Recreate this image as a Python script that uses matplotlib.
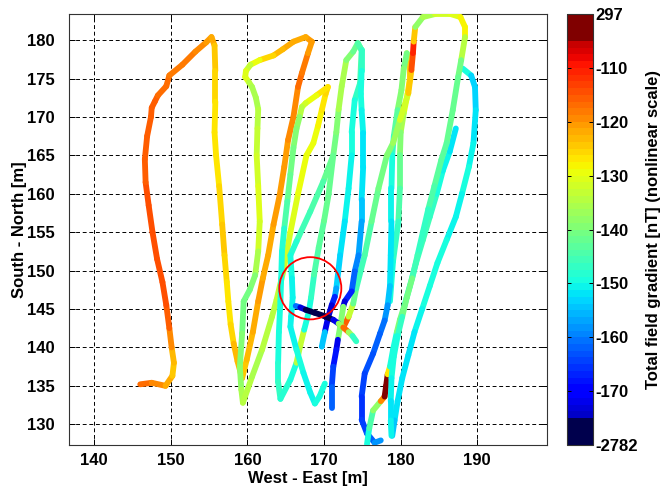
import numpy as np
import matplotlib
matplotlib.use("Agg")
import matplotlib.pyplot as plt
from matplotlib.colors import ListedColormap, FuncNorm
from matplotlib.collections import LineCollection
from matplotlib.patches import Circle

plt.rcParams["font.family"] = ["Liberation Sans", "DejaVu Sans"]
plt.rcParams["font.weight"] = "bold"

# Colour scale: nonlinear gradient axis (nT), evenly spaced ticks
scale_ticks = [-2782, -170, -160, -150, -140, -130, -120, -110, 297]

# Survey legs: (east [m], north [m], total field gradient [nT])
leg_a = [(146.0, 135.2, -117), (147.5, 135.4, -118), (149.3, 135.0, -121), (150.2, 136.3, -124),
         (150.4, 138.0, -125), (150.1, 140.0, -121), (149.8, 142.5, -117), (149.4, 145.5, -115),
         (148.9, 148.5, -114), (148.2, 151.5, -114), (147.6, 155.0, -115), (147.1, 158.5, -115),
         (146.7, 161.5, -115), (146.6, 164.5, -116), (146.9, 167.5, -116), (147.4, 170.0, -116),
         (147.5, 171.2, -115), (147.9, 172.0, -116), (148.3, 172.8, -116), (149.4, 174.0, -117),
         (149.8, 175.4, -118), (151.5, 176.8, -118), (153.2, 178.5, -119), (154.6, 179.7, -120),
         (155.3, 180.4, -121)]
leg_1 = [(155.3, 180.4, -121), (155.7, 179.3, -124), (155.8, 176.0, -125), (155.8, 172.0, -126),
         (155.7, 168.0, -127), (155.9, 165.0, -127), (156.3, 161.0, -127), (156.7, 156.0, -125),
         (157.0, 152.0, -124), (157.3, 148.5, -127), (157.5, 146.0, -128), (157.8, 143.0, -127),
         (158.2, 140.5, -124), (158.7, 138.2, -122), (159.3, 136.0, -125)]
leg_2 = [(159.3, 136.0, -125), (159.9, 138.4, -124), (160.7, 142.0, -122), (161.4, 146.0, -121),
         (162.0, 149.0, -121), (162.7, 152.0, -122), (163.4, 156.0, -121), (164.2, 159.8, -121),
         (164.8, 163.5, -121), (165.3, 167.0, -120), (166.0, 170.0, -120), (166.6, 173.9, -119),
         (167.1, 175.7, -116), (167.9, 178.3, -120), (168.4, 179.8, -121), (167.6, 180.4, -121)]
leg_3 = [(167.6, 180.4, -121), (166.0, 179.8, -122), (164.6, 178.8, -123), (163.4, 178.0, -124),
         (161.6, 177.4, -127), (160.4, 176.8, -132), (159.8, 176.0, -134), (159.7, 175.2, -127),
         (160.2, 174.5, -134), (160.6, 173.9, -136), (161.1, 172.5, -136), (161.4, 171.0, -135),
         (161.3, 168.5, -134), (161.2, 165.0, -132), (161.4, 161.0, -131), (161.6, 156.4, -130),
         (161.4, 152.5, -133), (161.0, 149.4, -138), (160.3, 147.5, -140), (159.5, 146.0, -141),
         (159.3, 141.8, -140), (159.0, 137.5, -139), (159.2, 134.5, -137), (159.4, 132.8, -134)]
leg_4 = [(159.4, 132.8, -134), (160.6, 136.2, -136), (161.9, 139.7, -135), (163.2, 144.0, -134),
         (163.8, 146.2, -134), (164.7, 150.0, -133), (165.6, 155.0, -131), (166.6, 160.0, -130),
         (167.7, 165.0, -130), (168.6, 166.6, -130), (169.2, 168.8, -129), (169.7, 170.9, -128),
         (170.2, 173.0, -126), (170.5, 173.9, -125)]
leg_5 = [(170.5, 173.9, -125), (169.0, 172.8, -128), (167.6, 171.8, -130), (167.1, 171.3, -133),
         (166.8, 170.0, -137), (166.4, 168.5, -139), (166.0, 166.0, -140), (165.6, 162.5, -141),
         (165.2, 159.0, -143), (164.8, 155.5, -147), (164.5, 152.5, -149), (164.4, 149.0, -150),
         (164.3, 146.0, -150), (164.1, 142.0, -150), (164.0, 138.0, -149), (164.0, 135.5, -148),
         (164.3, 133.3, -147)]
leg_6 = [(164.3, 133.3, -147), (165.6, 135.8, -150), (166.4, 138.0, -148), (166.9, 140.3, -120),
         (167.4, 142.3, -147), (168.0, 144.6, -152), (168.3, 146.5, -148), (168.7, 149.5, -145),
         (169.3, 153.0, -144), (170.0, 156.5, -143), (170.6, 160.0, -142), (171.2, 165.0, -141),
         (171.6, 168.0, -140), (171.9, 171.0, -138), (172.3, 174.0, -133), (172.9, 177.4, -138),
         (173.8, 178.5, -141), (174.4, 179.6, -142)]
leg_d = [(171.2, 165.0, -141), (169.9, 161.6, -143), (168.2, 157.7, -145), (166.4, 153.8, -147),
         (165.6, 152.0, -149), (165.8, 149.0, -150), (165.9, 146.5, -151), (165.7, 144.0, -151),
         (165.6, 142.7, -151), (166.4, 139.7, -150), (167.3, 136.7, -150), (168.2, 134.1, -151),
         (168.8, 132.7, -150), (169.4, 133.6, -150), (170.1, 135.3, -149)]
leg_c3 = [(174.4, 179.6, -142), (174.9, 178.7, -144), (174.7, 174.4, -146), (174.0, 172.2, -148),
          (173.6, 168.0, -150), (173.6, 165.0, -150), (173.2, 160.7, -151), (172.7, 156.4, -151),
          (172.1, 152.0, -152), (171.6, 147.7, -155), (171.4, 146.6, -160), (171.0, 145.5, -1000),
          (170.5, 143.8, -800), (170.1, 142.0, -600), (169.7, 140.1, -138)]
leg_c2 = [(174.4, 179.6, -142), (174.9, 178.7, -146), (174.9, 176.0, -148), (174.8, 173.0, -150),
          (174.9, 170.9, -150), (175.1, 167.9, -151), (175.1, 163.5, -152), (174.9, 159.2, -153),
          (174.9, 156.4, -155), (174.5, 152.0, -158), (174.0, 149.9, -160), (173.6, 147.3, -163),
          (172.7, 146.0, -400), (172.5, 145.3, -1500), (172.1, 142.7, 150), (171.8, 141.0, -1200),
          (171.6, 139.7, -300), (171.2, 137.5, -165), (171.0, 134.9, -163), (171.0, 132.1, -160)]
leg_c1 = [(166.3, 145.4, -150), (166.9, 145.2, -200), (167.6, 144.9, -1500), (168.8, 144.5, -2000),
          (170.0, 144.1, -2000), (171.2, 143.6, -1000), (171.9, 143.1, -300), (172.5, 142.6, 150),
          (173.2, 142.0, -130), (173.7, 141.5, -145), (174.2, 140.8, -150)]
leg_r1 = [(172.5, 142.6, 150), (173.2, 144.0, -128), (173.8, 145.7, -138), (174.2, 147.7, -146),
          (175.3, 152.0, -145), (176.2, 156.4, -143), (177.1, 160.7, -142), (178.2, 165.0, -140),
          (179.0, 166.6, -138), (179.9, 169.6, -135), (181.0, 173.1, -128), (181.4, 176.1, -120),
          (181.6, 178.3, -108), (181.7, 179.8, -112), (181.9, 181.7, -138), (182.9, 183.0, -138),
          (184.5, 183.4, -133), (186.5, 183.4, -131), (187.8, 183.0, -130), (188.4, 181.7, -127),
          (188.4, 180.4, -130), (187.9, 177.4, -140), (187.5, 175.2, -142), (186.8, 170.9, -142),
          (186.0, 166.6, -143), (185.3, 164.4, -143), (184.4, 161.0, -144), (183.6, 158.0, -146),
          (182.9, 155.0, -148), (182.2, 152.0, -146), (181.5, 149.0, -145), (180.8, 146.5, -136),
          (180.2, 144.0, -145), (179.6, 141.5, -148), (179.1, 138.8, -150), (178.8, 136.0, -150),
          (178.7, 133.0, -151), (178.7, 130.5, -152), (178.8, 128.5, -150)]
leg_r2 = [(180.8, 178.3, -141), (180.4, 176.3, -140), (180.1, 173.5, -139), (179.6, 170.9, -141),
          (179.1, 167.5, -145), (178.9, 165.0, -150), (178.8, 160.7, -150), (178.8, 156.4, -151),
          (178.7, 152.0, -152), (178.6, 148.0, -153), (178.3, 145.5, -157), (177.9, 143.5, -160),
          (177.3, 141.8, -162), (176.4, 139.2, -163), (175.3, 136.6, -164), (174.9, 133.6, -165),
          (174.9, 130.6, -166), (175.6, 128.8, -164), (176.6, 127.6, -160), (177.4, 127.9, -157)]
leg_r3 = [(180.8, 178.3, -141), (181.2, 177.0, -124), (181.2, 175.0, -125), (180.9, 173.0, -128),
          (180.4, 170.5, -134), (180.0, 168.0, -138), (179.9, 165.0, -141), (179.9, 160.7, -143),
          (179.7, 156.4, -145), (179.0, 151.2, -148), (178.6, 146.0, -150)]
leg_r4 = [(175.6, 127.4, -152), (175.9, 129.5, -148), (176.4, 131.8, -140), (177.4, 133.0, -136),
          (177.9, 133.6, 200), (178.1, 135.0, 297), (178.3, 136.5, 150), (178.6, 137.5, -150),
          (179.0, 139.7, -150), (179.5, 142.0, -148), (179.9, 143.6, -132), (180.5, 145.5, -150),
          (181.2, 148.0, -148), (182.0, 151.0, -146), (182.9, 154.0, -145), (183.8, 157.0, -146),
          (184.7, 160.0, -148), (185.5, 163.0, -150), (186.4, 165.5, -151), (187.2, 168.5, -152)]
leg_r5 = [(188.1, 176.3, -146), (189.2, 175.4, -152), (189.7, 173.9, -154), (189.8, 170.9, -153),
          (189.5, 166.6, -151), (188.9, 163.5, -150), (188.0, 160.0, -150), (187.2, 157.0, -151),
          (186.0, 154.0, -150), (184.8, 151.0, -149), (183.8, 148.0, -150), (182.8, 145.0, -150),
          (181.8, 142.0, -151), (181.0, 139.0, -152), (180.2, 136.0, -152), (179.6, 133.0, -152),
          (179.2, 130.5, -153), (178.9, 128.5, -155)]

legs = [leg_a, leg_1, leg_2, leg_3, leg_4, leg_5, leg_6, leg_d, leg_r3, leg_r2, leg_r5,
        leg_r4, leg_r1, leg_c3, leg_c2, leg_c1]

# Target zone marker
target_center = (168.2, 147.7)
target_radius = 4.05

tick_pos = np.linspace(0.0, 1.0, len(scale_ticks))


def to_unit(v):
    return np.interp(v, scale_ticks, tick_pos)


def from_unit(p):
    return np.interp(p, tick_pos, scale_ticks)


norm = FuncNorm((to_unit, from_unit), vmin=scale_ticks[0], vmax=scale_ticks[-1])

colors = plt.get_cmap("jet")(np.linspace(0, 1, 64))
colors[:4] = (0.0, 0.0, 0.3, 1.0)
colors[-4:] = (0.5, 0.0, 0.0, 1.0)
cmap = ListedColormap(colors)

fig = plt.figure(figsize=(6.72, 4.88), dpi=100)
ax = fig.add_axes([69 / 672, 43 / 488, 478 / 672, 431 / 488])

for leg in legs:
    arr = np.asarray(leg, dtype=float)
    pts = arr[:, :2]
    segs = np.stack([pts[:-1], pts[1:]], axis=1)
    u = to_unit(arr[:, 2])
    seg_u = 0.5 * (u[:-1] + u[1:])
    lc = LineCollection(segs, colors=cmap(seg_u), linewidths=4.2, capstyle="round",
                        joinstyle="round", zorder=3)
    ax.add_collection(lc)

ax.add_patch(Circle(target_center, target_radius, fill=False, edgecolor="red",
                    linewidth=1.3, zorder=5))

ax.set_xlim(136.7, 199.1)
ax.set_ylim(127.3, 183.4)
ax.set_xticks(np.arange(140, 191, 10))
ax.set_yticks(np.arange(130, 181, 5))
ax.grid(True, color="black", linestyle=(0, (4.0, 2.8)), linewidth=0.7, zorder=0)
ax.set_axisbelow(True)
ax.tick_params(axis="both", direction="in", top=True, right=True, length=4,
               labelsize=12, width=0.7)
ax.tick_params(axis="y", pad=10.5)
ax.tick_params(axis="x", pad=6)
for sp in ax.spines.values():
    sp.set_color("#333333")
    sp.set_linewidth(0.8)
ax.set_xlabel("West - East [m]", fontsize=12, fontweight="bold", labelpad=2)
ax.set_ylabel("South - North [m]", fontsize=12, fontweight="bold", labelpad=0)

cax = fig.add_axes([567 / 672, 43 / 488, 25.5 / 672, 431 / 488])
sm = plt.cm.ScalarMappable(norm=norm, cmap=cmap)
cbar = fig.colorbar(sm, cax=cax)
cbar.set_ticks(scale_ticks)
cbar.set_ticklabels([str(t) for t in scale_ticks])
cbar.minorticks_off()
cax.tick_params(direction="in", left=True, right=True, length=3, width=0.7,
                labelsize=12, pad=2)
cbar.outline.set_edgecolor("#333333")
cbar.outline.set_linewidth(0.8)
cbar.set_label("Total field gradient [nT] (nonlinear scale)", fontsize=12,
               fontweight="bold", labelpad=6)

fig.savefig("out.png", dpi=100)
